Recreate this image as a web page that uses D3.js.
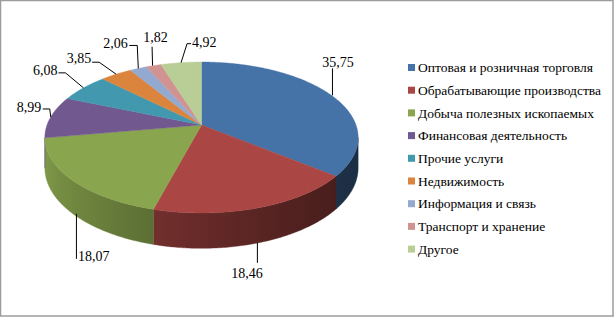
<!DOCTYPE html>
<html><head><meta charset="utf-8">
<script src="https://cdn.jsdelivr.net/npm/d3@7/dist/d3.min.js"></script>
<style>html,body{margin:0;padding:0;background:#fff;}svg{display:block;}</style>
</head><body>
<svg id="c" width="615" height="318"></svg>
<script>
// ---- data ----
const categories = ["Оптовая и розничная торговля","Обрабатывающие производства","Добыча полезных ископаемых","Финансовая деятельность","Прочие услуги","Недвижимость","Информация и связь","Транспорт и хранение","Другое"];
const values = [35.75, 18.46, 18.07, 8.99, 6.08, 3.85, 2.06, 1.82, 4.92];
const valueLabels = ["35,75","18,46","18,07","8,99","6,08","3,85","2,06","1,82","4,92"];
const colors = ["#4572A7","#AA4643","#89A54E","#71588F","#4198AF","#DB843D","#93A9CF","#D19392","#B9CD96"];

// ---- layout (positions / styles) ----
const FONT = "'Liberation Serif', 'Times New Roman', serif";
const cx = 201.5, cy = 125;       // projected pie centre
const sx = 154.5, sy = 73.4;      // projected radii factors
const k = 0.1656;                 // perspective strength
const H = 29.5;                   // depth of the pie
const labelLayout = [
  {s:[1,0], pts:[[1,-27]], t:[6.5,-33], a:"middle"},
  {s:[-1,0], pts:[[-1,20]], t:[-11.5,30], a:"middle", bottom:true},
  {s:[3.5,0], pts:[[3.5,45]], t:[5,42], a:"start", bottom:true},
  {s:[0,0], pts:[[-1,-8],[-8,-8]], t:[-9.5,-10], a:"end"},
  {s:[0,0], pts:[[-18,-15],[-25,-15]], t:[-26,-18], a:"end"},
  {s:[0,0], pts:[[-17,-12],[-24,-12]], t:[-25,-16], a:"end"},
  {s:[0,0], pts:[[-1,-23],[-9,-23]], t:[-10.5,-25], a:"end"},
  {s:[-1,0], pts:[[-1.5,-19]], t:[2,-29], a:"middle"},
  {s:[0,0], pts:[[6,-19],[10,-19]], t:[11,-21], a:"start"}
];

const svg = d3.select("#c");
svg.append("rect").attr("x",0.5).attr("y",0.5).attr("width",612.5).attr("height",315.5)
  .attr("fill","#fff").attr("stroke","#9c9c9c").attr("stroke-width",1.5);
svg.append("line").attr("x1",613.5).attr("x2",613.5).attr("y1",1).attr("y2",317).attr("stroke","#b5b5b5").attr("stroke-width",1);
svg.append("line").attr("x1",1).attr("x2",614).attr("y1",316.5).attr("y2",316.5).attr("stroke","#b5b5b5").attr("stroke-width",1);

const pie = d3.pie().sort(null).value(d => d)(values);

function proj(a, r, h) {
  const X = r * Math.sin(a), Z = -r * Math.cos(a);
  const w = 1 - k * Z;
  return [cx + sx * X / w, cy + (sy * Z + h) / w];
}
function arcPts(a0, a1, h) {
  const pts = [];
  const steps = Math.max(2, Math.ceil(Math.abs(a1 - a0) / (Math.PI / 180) * 1.5));
  for (let i = 0; i <= steps; i++) pts.push(proj(a0 + (a1 - a0) * i / steps, 1, h));
  return pts;
}
const line = d3.line();
const xMin = cx - sx / Math.sqrt(1 - k * k), xMax = cx + sx / Math.sqrt(1 - k * k);
function shade(base, x) {
  const t = Math.max(0, Math.min(1, (x - xMin) / (xMax - xMin)));
  const f = 0.92 - 0.52 * Math.pow(t, 0.7);
  const c = d3.rgb(base);
  return d3.rgb(c.r * f, c.g * f, c.b * f).formatHex();
}

const defs = svg.append("defs");
const visA0 = Math.acos(-k), visA1 = 2 * Math.PI - Math.acos(-k);
const gSide = svg.append("g");
pie.forEach((d, i) => {
  const a0 = Math.max(d.startAngle, visA0), a1 = Math.min(d.endAngle, visA1);
  if (a1 <= a0) return;
  const pts = arcPts(a0, a1, 0).concat(arcPts(a1, a0, H));
  const xs = pts.map(p => p[0]);
  const x0 = d3.min(xs), x1 = d3.max(xs);
  const gid = "side" + i;
  const g = defs.append("linearGradient").attr("id", gid).attr("gradientUnits","userSpaceOnUse")
    .attr("x1", x0).attr("x2", x1).attr("y1", 0).attr("y2", 0);
  for (let s = 0; s <= 8; s++) {
    g.append("stop").attr("offset", s / 8).attr("stop-color", shade(colors[i], x0 + (x1 - x0) * s / 8));
  }
  gSide.append("path").attr("d", line(pts) + "Z").attr("fill", `url(#${gid})`)
    .attr("stroke", `url(#${gid})`).attr("stroke-width", 0.4);
});

const gTop = svg.append("g");
pie.forEach((d, i) => {
  const pts = [[cx, cy]].concat(arcPts(d.startAngle, d.endAngle, 0));
  gTop.append("path").attr("d", line(pts) + "Z").attr("fill", colors[i])
    .attr("stroke", colors[i]).attr("stroke-width", 0.4);
});

// labels
const gLab = svg.append("g");
pie.forEach((d, i) => {
  const L = labelLayout[i];
  const mid = (d.startAngle + d.endAngle) / 2;
  const an = proj(mid, 1, L.bottom ? H : 0);
  const pts = [[an[0] + L.s[0], an[1] + L.s[1]]].concat(L.pts.map(p => [an[0] + p[0], an[1] + p[1]]));
  gLab.append("path").attr("d", line(pts)).attr("fill","none").attr("stroke","#000").attr("stroke-width",1);
  gLab.append("text").attr("x", an[0] + L.t[0]).attr("y", an[1] + L.t[1])
    .attr("dy","0.35em").attr("text-anchor", L.a)
    .style("font-family", FONT).style("font-size", "14px")
    .attr("fill","#000").text(valueLabels[i]);
});

// legend
const lx = 408, ly0 = 67.5, lstep = 22.7;
const gLeg = svg.append("g");
categories.forEach((c, i) => {
  const y = ly0 + i * lstep;
  gLeg.append("rect").attr("x", lx).attr("y", y - 3.5).attr("width", 7).attr("height", 7).attr("fill", colors[i]);
  gLeg.append("text").attr("x", lx + 10).attr("y", y).attr("dy","0.35em")
    .style("font-family", FONT).style("font-size", "13.5px")
    .attr("fill","#000").text(c);
});
</script>
</body></html>
